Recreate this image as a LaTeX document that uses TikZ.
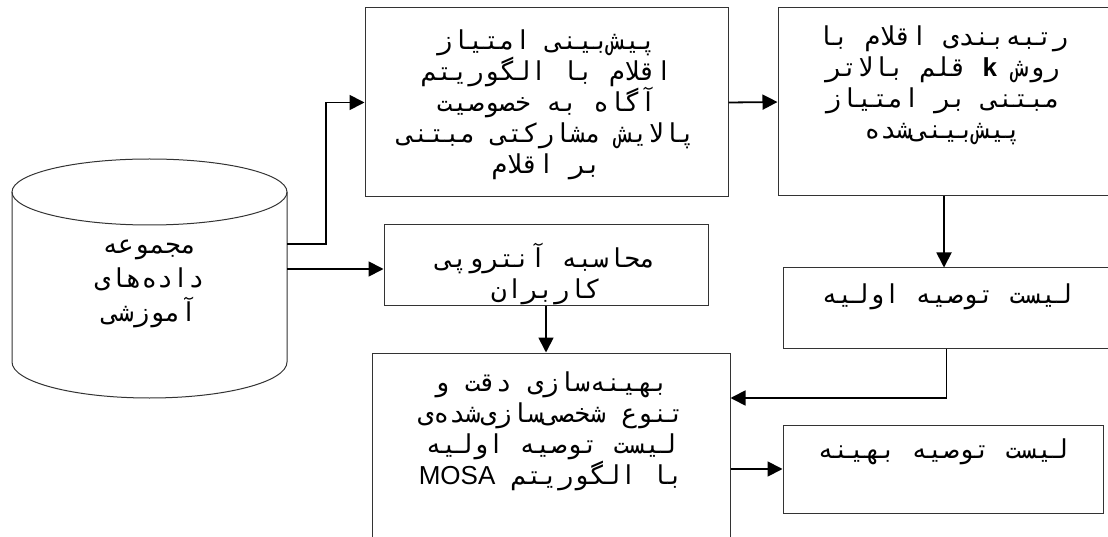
\documentclass[tikz,border=0pt]{standalone}
\usepackage{fontspec}
\usetikzlibrary{arrows.meta}
\TeXXeTstate=1
\newfontfamily\fa[Script=Arabic]{DejaVu Sans Mono}
\newfontfamily\lat{Liberation Sans}
\newcommand\RR[1]{{\fa\beginR #1\endR}}
\newcommand\LL[1]{\beginL{\lat #1}\endL}
\begin{document}
\begin{tikzpicture}[x=1pt,y=-1pt,
 box/.style={draw=black!80, line width=1pt, inner sep=0pt},
 txt/.style={align=center, font=\fontsize{26}{31}\selectfont, inner sep=0pt},
 arr/.style={line width=1.8pt, -{Triangle[length=15pt,width=15pt]}}]
\useasboundingbox (0,0) rectangle (1108,537);
% cylinder
\draw[box] (12,192) -- (12,362) arc[start angle=180,end angle=0,x radius=137.5,y radius=36] -- (287,192);
\draw[box] (149.5,192) ellipse[x radius=137.5,y radius=33];
\node[txt, font=\fontsize{26}{34}\selectfont] (db) at (149.5,284) {\RR{مجموعه}\\\RR{داده‌های}\\\RR{آموزشی}};
\coordinate (dbA) at (287,244);
\coordinate (dbB) at (287,269);
% boxes
\node[box, minimum width=363, minimum height=189] (p1) at (546.5,102.5) {};
\node[txt] (p1t) at (546.5,105) {\RR{پیش‌بینی امتیاز}\\\RR{اقلام با الگوریتم}\\\RR{آگاه به خصوصیت}\\\RR{پالایش مشارکتی مبتنی}\\\RR{بر اقلام}};
\node[box, minimum width=332, minimum height=188] (p2) at (944,102) {};
\node[txt] (p2t) at (943,85) {\RR{رتبه‌بندی اقلام با}\\\RR{روش \LL{\bfseries k} قلم بالاتر}\\\RR{مبتنی بر امتیاز}\\\RR{پیش‌بینی‌شده}};
\node[box, minimum width=327, minimum height=80] (p3) at (946.5,308) {};
\node[txt] (p3t) at (947,297) {\RR{لیست توصیه اولیه}};
\node[box, minimum width=324, minimum height=80] (p4) at (546,265) {};
\node[txt] (p4t) at (546,274) {\RR{محاسبه آنتروپی}\\\RR{کاربران}};
\node[box, minimum width=358, minimum height=192] (p5) at (551,449) {};
\node[txt] (p5t) at (551,431) {\RR{بهینه‌سازی دقت و}\\\RR{تنوع شخصی‌سازی‌شده‌ی}\\\RR{لیست توصیه اولیه}\\\RR{با الگوریتم \LL{MOSA}}};
\node[box, minimum width=320, minimum height=88] (p6) at (943,469) {};
\node[txt] (p6t) at (943,452) {\RR{لیست توصیه بهینه}};
% connectors
\draw[arr] (dbA) -| (326,102.5) -- (p1.west);
\draw[arr] (dbB) -- (dbB -| p4.west);
\draw[arr] (p1.east) -- (p2.west);
\draw[arr] (p2.south) -- (p2.south |- p3.north);
\draw[arr] (p3.south) |- ([yshift=51pt]p5.east);
\draw[arr] (p4.south) -- (p4.south |- p5.north);
\draw[arr] (p5.east |- p6.west) -- (p6.west);
\end{tikzpicture}
\end{document}
